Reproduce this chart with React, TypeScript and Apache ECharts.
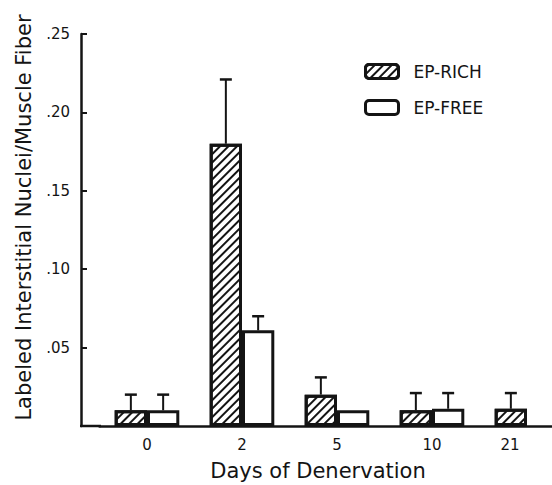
import React, { useEffect, useRef } from "react";
import * as echarts from "echarts";

const categories = ["0", "2", "5", "10", "21"];
const epRich = [0.01, 0.18, 0.02, 0.01, 0.011];
const epRichErrTop = [0.02, 0.221, 0.031, 0.021, 0.021];
const epFree: (number | null)[] = [0.01, 0.061, 0.01, 0.011, null];
const epFreeErrTop: (number | null)[] = [0.02, 0.07, null, 0.021, null];
const yTicks = [0, 0.05, 0.1, 0.15, 0.2, 0.25];

const FONT = "DejaVu Sans";
const INK = "#141414";

function errData(vals: (number | null)[], tops: (number | null)[]) {
  const out: number[][] = [];
  vals.forEach((v, i) => {
    const t = tops[i];
    if (v != null && t != null) out.push([i, v, t]);
  });
  return out;
}

function makeErrRender(side: number) {
  return (params: any, api: any) => {
    const i = api.value(0);
    const base = api.coord([i, api.value(1)]);
    const top = api.coord([i, api.value(2)]);
    const band = api.size([1, 0])[0];
    const x = base[0] + side * band * 0.17;
    return {
      type: "group",
      children: [
        {
          type: "line",
          shape: { x1: x, y1: base[1], x2: x, y2: top[1] },
          style: { stroke: INK, lineWidth: 2 },
        },
        {
          type: "line",
          shape: { x1: x - 6, y1: top[1], x2: x + 6, y2: top[1] },
          style: { stroke: INK, lineWidth: 2.5 },
        },
      ],
    };
  };
}

export default function App() {
  const ref = useRef<HTMLDivElement>(null);
  useEffect(() => {
    if (!ref.current) return;
    const chart = echarts.init(ref.current, null, { renderer: "svg" });
    const hatch = {
      symbol: "rect",
      symbolSize: 1,
      color: INK,
      dashArrayX: [1, 0],
      dashArrayY: [1.4, 3.8],
      rotation: -Math.PI / 4,
    };
    chart.setOption({
      animation: false,
      backgroundColor: "#fff",
      grid: { left: 99.5, width: 475, top: 34, bottom: 59, outerBoundsMode: "none", containLabel: false },
      legend: {
        orient: "vertical",
        left: 364,
        top: 63,
        padding: 0,
        itemWidth: 33,
        itemHeight: 14,
        itemGap: 19,
        textStyle: { fontFamily: FONT, fontSize: 17, color: INK, padding: [0, 0, 0, 10] },
        itemStyle: { borderColor: INK, borderWidth: 3 },
        data: ["EP-RICH", "EP-FREE"],
      },
      xAxis: {
        type: "category",
        data: categories.map((c, i) =>
          i === categories.length - 1 ? { value: c, textStyle: { padding: [0, 34, 0, 0] } } : c
        ),
        name: "Days of Denervation",
        nameLocation: "middle",
        nameGap: 34,
        nameTextStyle: { fontFamily: FONT, fontSize: 21, color: INK, padding: [0, 38, 0, 0] },
        axisLine: { lineStyle: { color: INK, width: 2.5 } },
        axisTick: { show: false },
        axisLabel: { fontFamily: FONT, fontSize: 15, color: INK, margin: 11 },
      },
      yAxis: {
        type: "value",
        min: 0,
        max: 0.25,
        interval: 0.05,
        offset: 18.5,
        name: "Labeled Interstitial Nuclei/Muscle Fiber",
        nameLocation: "middle",
        nameGap: 47,
        nameTextStyle: { fontFamily: FONT, fontSize: 21, color: INK, padding: [0, 0, 0, 25] },
        splitLine: { show: false },
        axisLine: { show: true, lineStyle: { color: INK, width: 2.5 } },
        axisTick: { show: true, inside: true, length: 6, lineStyle: { color: INK, width: 2 } },
        axisLabel: {
          fontFamily: FONT,
          fontSize: 15,
          color: INK,
          margin: 11,
          formatter: (v: number) =>
            yTicks.indexOf(Math.round(v * 100) / 100) > 0 ? v.toFixed(2).replace(/^0/, "") : "",
        },
      },
      series: [
        {
          name: "EP-RICH",
          type: "bar",
          data: epRich,
          barWidth: "34%",
          barGap: "0%",
          itemStyle: { color: "#fff", borderColor: INK, borderWidth: 3, decal: hatch },
        },
        {
          name: "EP-FREE",
          type: "bar",
          data: epFree,
          barWidth: "34%",
          barGap: "0%",
          itemStyle: { color: "#fff", borderColor: INK, borderWidth: 3 },
        },
        {
          name: "EP-RICH error",
          type: "custom",
          renderItem: makeErrRender(-1),
          data: errData(epRich, epRichErrTop),
          encode: { x: 0, y: [1, 2] },
          z: 5,
        },
        {
          name: "EP-FREE error",
          type: "custom",
          renderItem: makeErrRender(1),
          data: errData(epFree, epFreeErrTop),
          encode: { x: 0, y: [1, 2] },
          z: 5,
        },
      ],
      graphic: [
        {
          type: "line",
          shape: { x1: 80, y1: 426, x2: 101, y2: 426 },
          style: { stroke: INK, lineWidth: 2.5 },
        },
      ],
    });
    return () => chart.dispose();
  }, []);
  return (
    <div
      ref={ref}
      style={{ position: "fixed", left: 0, top: 0, width: 552, height: 485, background: "#fff" }}
    />
  );
}
